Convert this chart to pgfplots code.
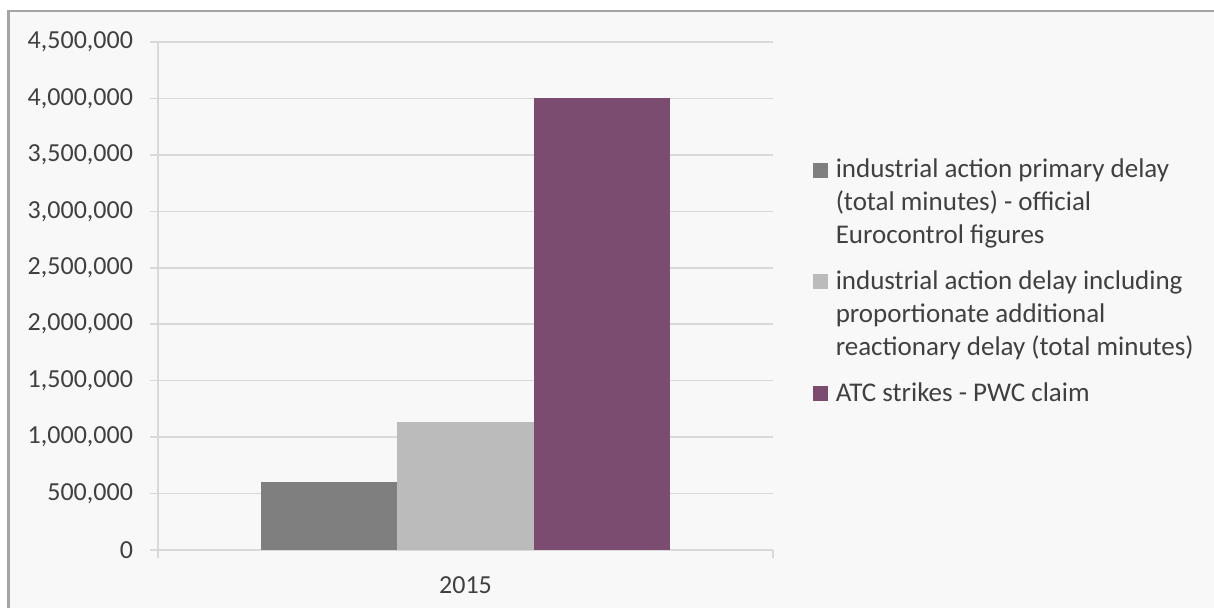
\documentclass[border=0pt]{standalone}
\usepackage{fontspec}
\setmainfont{Carlito}
\usepackage{pgfplots}
\pgfplotsset{compat=1.18}
\definecolor{gridc}{RGB}{217,217,217}
\definecolor{bgc}{RGB}{248,248,248}
\definecolor{framec}{RGB}{165,165,165}
\definecolor{barA}{RGB}{127,127,127}
\definecolor{barB}{RGB}{187,187,187}
\definecolor{barC}{RGB}{124,76,112}
\definecolor{txt}{RGB}{64,64,64}
\begin{document}
\begin{tikzpicture}[x=1pt,y=1pt]
\path[fill=white] (0,0) rectangle (607,304);
\begin{scope}
\clip (0,0) rectangle (607,304);
\draw[framec, fill=bgc, line width=1.2pt] (4.2,-5) rectangle (612,298.5);
\end{scope}
\begin{axis}[
  at={(79pt,29pt)}, anchor=south west, scale only axis,
  width=307.5pt, height=254pt,
  xmin=0, xmax=1, ymin=0, ymax=4500000,
  ytick={0,500000,1000000,1500000,2000000,2500000,3000000,3500000,4000000,4500000},
  scaled y ticks=false,
  yticklabel style={xshift=-5pt, /pgf/number format/.cd, fixed, 1000 sep={,}, assume math mode=true},
  xtick={0,1}, xticklabels={},
  extra x ticks={0.5}, extra x tick labels={2015},
  extra x tick style={major tick length=0pt, xticklabel style={yshift=-10pt}},
  tick label style={font=\fontsize{13}{15}\selectfont, text=txt},
  axis lines*=left,
  axis line style={gridc, line width=0.8pt},
  ymajorgrids, grid style={gridc, line width=0.8pt},
  tick style={gridc, line width=0.8pt},
  tick align=outside, major tick length=4pt,
  ytick pos=left, xtick pos=bottom,
  ybar, bar width=68.25pt,
  legend style={at={(axis description cs:1.064,0.778)}, anchor=north west,
    draw=none, fill=none, font=\fontsize{13.5}{16.5}\selectfont, text=txt,
    cells={align=left}, row sep=8pt, column sep=2pt, inner sep=0pt},
  legend cell align=left,
]
\addplot[fill=barA, draw=none, bar shift=-68.25pt,
  legend image code/.code={\fill[barA] (0pt,12.75pt) rectangle (7.5pt,20.25pt);}] coordinates {(0.5,605000)};
\addlegendentry{industrial action primary delay\\(total minutes) - official\\Eurocontrol figures}
\addplot[fill=barB, draw=none, bar shift=0pt,
  legend image code/.code={\fill[barB] (0pt,12.75pt) rectangle (7.5pt,20.25pt);}] coordinates {(0.5,1130000)};
\addlegendentry{industrial action delay including\\proportionate additional\\reactionary delay (total minutes)}
\addplot[fill=barC, draw=none, bar shift=68.25pt,
  legend image code/.code={\fill[barC] (0pt,-3.75pt) rectangle (7.5pt,3.75pt);}] coordinates {(0.5,4000000)};
\addlegendentry{ATC strikes - PWC claim}
\end{axis}
\end{tikzpicture}
\end{document}
